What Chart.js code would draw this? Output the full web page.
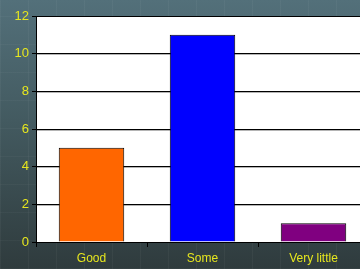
<!DOCTYPE html>
<html>
<head>
<meta charset="utf-8">
<script src="https://cdn.jsdelivr.net/npm/chart.js@4"></script>
<style>
  html, body { margin: 0; padding: 0; overflow: hidden; }
  body {
    width: 360px; height: 269px;
    background:
      repeating-linear-gradient(90deg, rgba(255,255,255,0.04) 0 1px, transparent 1px 28px),
      repeating-linear-gradient(0deg, rgba(255,255,255,0.03) 0 1px, transparent 1px 28px),
      linear-gradient(180deg, #53707a 0%, #435a60 45%, #2f3b3d 100%);
  }
  #wrap { width: 370px; height: 269px; }
</style>
</head>
<body>
<div id="wrap"><canvas id="chart" width="370" height="269"></canvas></div>
<script>
const categories = ["Good", "Some", "Very little"];
const values = [5, 11, 1];
const barColors = ["#ff6600", "#0000ff", "#800080"];
const yTicks = [0, 2, 4, 6, 8, 10, 12];

// white plot area behind the bars, grey shadow under each gridline
const plotBg = {
    id: "plotBg",
    beforeDraw(chart) {
        const { ctx, chartArea: a } = chart;
        ctx.save();
        ctx.fillStyle = "#ffffff";
        ctx.fillRect(a.left, a.top, a.right - a.left, a.bottom - a.top);
        ctx.strokeStyle = "#a0a0a0";
        ctx.beginPath();
        ctx.moveTo(a.left, a.top + 0.5);
        ctx.lineTo(a.right, a.top + 0.5);
        ctx.stroke();
        ctx.restore();
    },
    beforeDatasetsDraw(chart) {
        const { ctx, chartArea: a, scales } = chart;
        ctx.save();
        ctx.strokeStyle = "#b4b4b4";
        ctx.beginPath();
        yTicks.slice(1, -1).forEach(v => {
            const y = Math.round(scales.y.getPixelForValue(v) - 0.5) + 1.5;
            ctx.moveTo(a.left + 1, y);
            ctx.lineTo(a.right, y);
        });
        ctx.stroke();
        ctx.restore();
    }
};

const yellow = "#e6e61e";

new Chart(document.getElementById("chart"), {
    type: "bar",
    data: {
        labels: categories,
        datasets: [{
            data: values,
            backgroundColor: barColors,
            borderColor: "#000000",
            borderWidth: 1,
            barPercentage: 0.59,
            categoryPercentage: 1
        }]
    },
    options: {
        responsive: false,
        animation: false,
        layout: { padding: { top: 16, right: 1, left: 0, bottom: 0 } },
        plugins: { legend: { display: false }, tooltip: { enabled: false } },
        scales: {
            x: {
                offset: true,
                grid: { offset: true, drawOnChartArea: false, color: "#000000", tickLength: 5 },
                border: { color: "#000000", width: 1 },
                ticks: { color: yellow, font: { family: "Liberation Sans, Arial", size: 12 }, padding: 4 },
                afterFit(scale) { scale.height = 27; }
            },
            y: {
                min: 0, max: 12,
                afterBuildTicks(scale) { scale.ticks = yTicks.map(v => ({ value: v })); },
                grid: { color: "#000000", tickLength: 4, drawTicks: true },
                border: { color: "#000000", width: 1 },
                ticks: { color: yellow, font: { family: "Liberation Sans, Arial", size: 13 }, padding: 3 },
                afterFit(scale) { scale.width = 36; }
            }
        }
    },
    plugins: [plotBg]
});
</script>
</body>
</html>
